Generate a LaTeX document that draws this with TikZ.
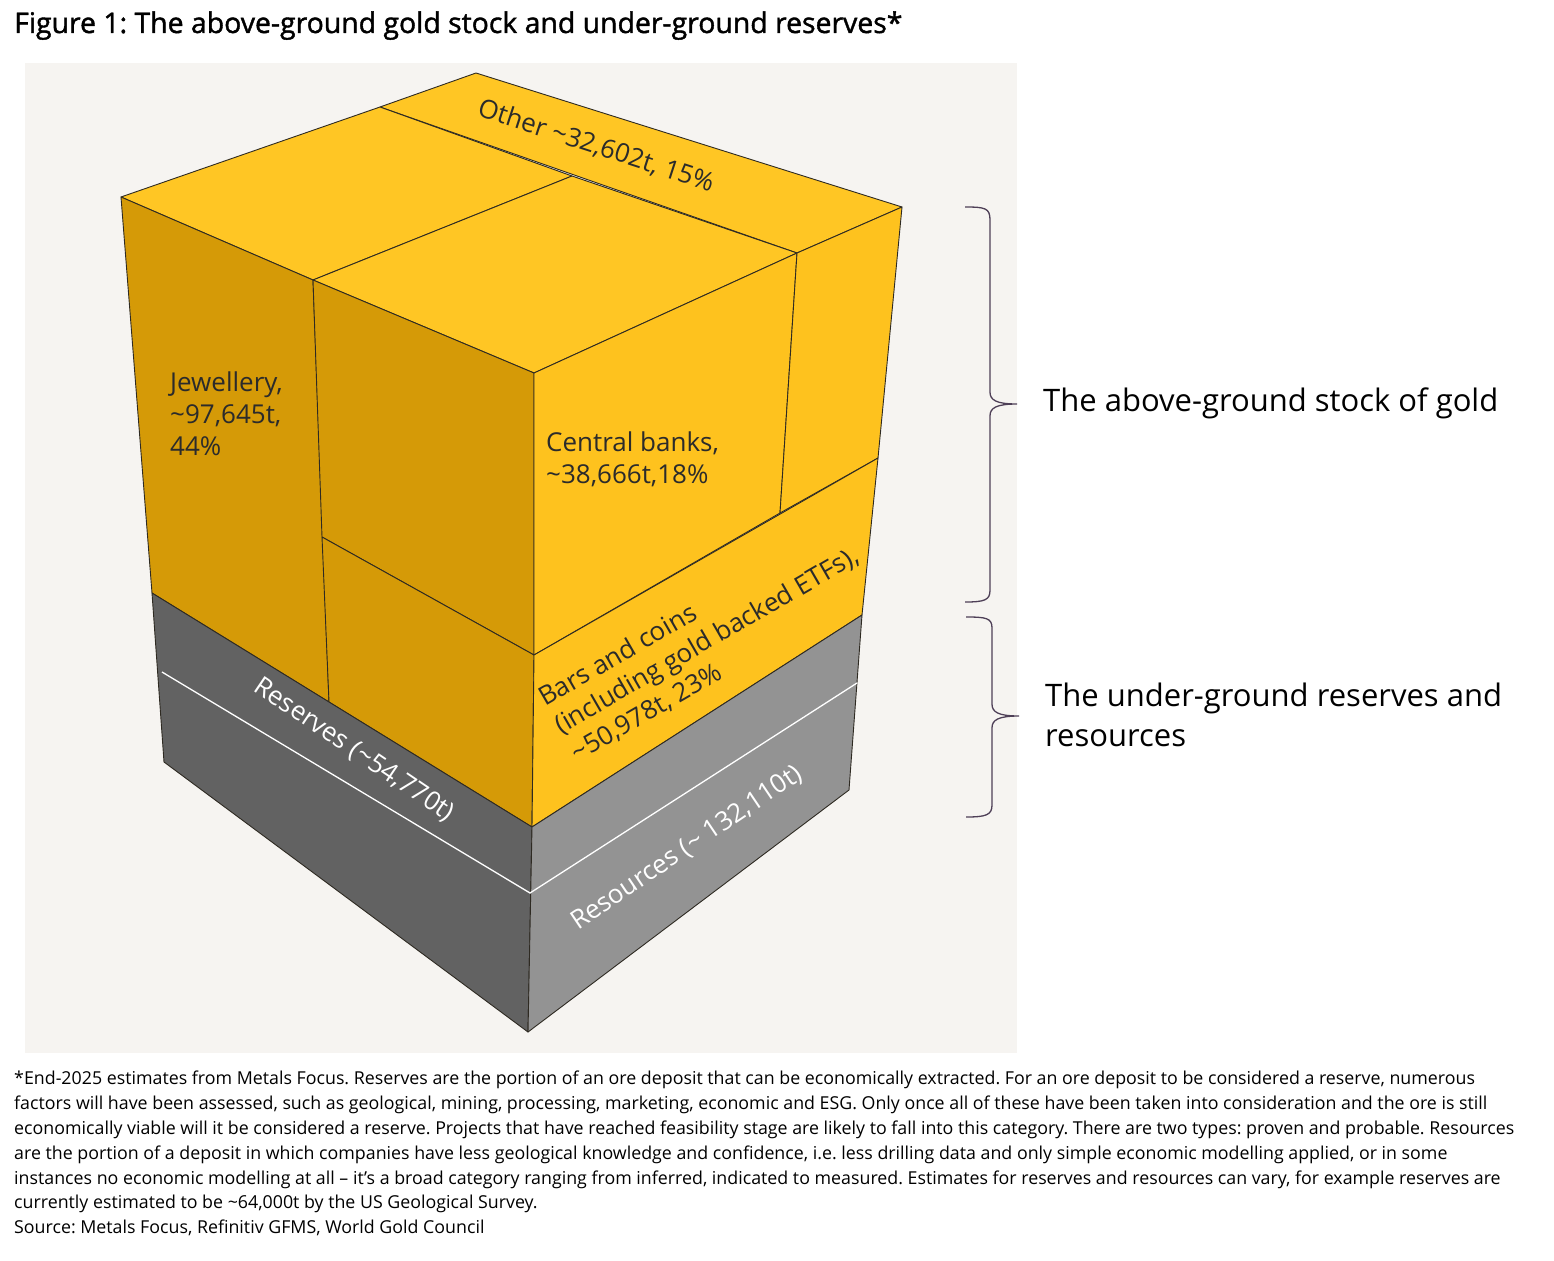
\documentclass[tikz,border=0pt]{standalone}
\usepackage{fontspec}
\setmainfont{Open Sans}
\newfontfamily\titlefont[FakeBold=1.4]{Open Sans}
\frenchspacing
\definecolor{goldtop}{HTML}{FFC624}
\definecolor{goldleft}{HTML}{D59A07}
\definecolor{goldright}{HTML}{FEC21E}
\definecolor{greyleft}{HTML}{626262}
\definecolor{greyright}{HTML}{939393}
\definecolor{backdrop}{HTML}{F6F4F1}
\definecolor{bracecol}{HTML}{4E3F57}
\definecolor{edgecol}{HTML}{2E2A22}
\definecolor{labelcol}{HTML}{2B2B2B}

\begin{document}
\begin{tikzpicture}[x=1pt,y=-1pt,
    face/.style={draw=edgecol,line width=0.9pt,line join=round},
    lbl/.style={font=\fontsize{26}{32}\selectfont,text=labelcol,inner sep=0pt,align=left},
    sidelbl/.style={font=\fontsize{31}{40}\selectfont,text=black,inner sep=0pt,align=left,anchor=west},
    brace/.style={draw=bracecol,line width=1.3pt}]
    \useasboundingbox (0,0) rectangle (1554,1260);
    \fill[backdrop] (25,63) rectangle (1017,1053);

    % corners of the block
    \coordinate (BT) at (476,73);
    \coordinate (LT) at (121,197);
    \coordinate (RT) at (902,207);
    \coordinate (FT) at (534,373);
    \coordinate (LG) at (152,593);
    \coordinate (FG) at (532,827);
    \coordinate (RG) at (862,615);
    \coordinate (LB) at (164,762);
    \coordinate (FB) at (528,1032);
    \coordinate (RB) at (849,790);
    % division points
    \coordinate (A1) at (380,107);
    \coordinate (A2) at (797,253);
    \coordinate (B1) at (572,176);
    \coordinate (B2) at (313,280);
    \coordinate (C1) at (329,702);
    \coordinate (C2) at (322,537);
    \coordinate (D1) at (534,655);
    \coordinate (D2) at (878,458);
    \coordinate (E1) at (780,513);
    \coordinate (WL) at (162,672);
    \coordinate (WF) at (530,893);
    \coordinate (WR) at (857,683);

    % gold, top
    \filldraw[face,fill=goldtop] (A1) -- (BT) -- (RT) -- (A2) -- cycle;
    \filldraw[face,fill=goldtop] (LT) -- (A1) -- (B1) -- (B2) -- cycle;
    \filldraw[face,fill=goldtop] (B2) -- (B1) -- (A2) -- (FT) -- cycle;
    % gold, left side
    \filldraw[face,fill=goldleft] (LT) -- (B2) -- (C1) -- (LG) -- cycle;
    \filldraw[face,fill=goldleft] (B2) -- (FT) -- (D1) -- (C2) -- cycle;
    \filldraw[face,fill=goldleft] (C2) -- (D1) -- (FG) -- (C1) -- cycle;
    % gold, right side
    \filldraw[face,fill=goldright] (FT) -- (A2) -- (E1) -- (D1) -- cycle;
    \filldraw[face,fill=goldright] (A2) -- (RT) -- (D2) -- (E1) -- cycle;
    \filldraw[face,fill=goldright] (D1) -- (D2) -- (RG) -- (FG) -- cycle;
    % under ground
    \filldraw[face,fill=greyleft] (LG) -- (FG) -- (FB) -- (LB) -- cycle;
    \filldraw[face,fill=greyright] (FG) -- (RG) -- (RB) -- (FB) -- cycle;
    \draw[white,line width=1.3pt] (WL) -- (WF) -- (WR);

    \node[lbl,anchor=north west] (jewel) at (170,372) {Jewellery,\\\textasciitilde97,645t,\\44\%};
    \node[lbl,anchor=north west] (cbanks) at (546,432) {Central banks,\\\textasciitilde38,666t,18\%};
    \node[lbl,rotate=-18] (other) at (596,146) {Other \textasciitilde32,602t, 15\%};
    \node[lbl,rotate=30] (bars) at (707,641) {Bars and coins\\(including gold backed ETFs),\\\textasciitilde50,978t, 23\%};
    \node[lbl,text=white,rotate=-34] (reserves) at (354,750) {Reserves (\textasciitilde54,770t)};
    \node[lbl,text=white,rotate=34] (resources) at (687,848) {Resources (\textasciitilde\ 132,110t)};

    % braces
    \draw[brace] (965,207) .. controls (985,207) and (990,208) .. (990,220) -- (990,392)
        .. controls (990,400) and (996,404) .. (1017,404)
        .. controls (996,404) and (990,408) .. (990,416) -- (990,590)
        .. controls (990,600) and (985,602) .. (965,602);
    \draw[brace] (966,617) .. controls (986,617) and (992,618) .. (992,628) -- (992,704)
        .. controls (992,712) and (998,716) .. (1019,716)
        .. controls (998,716) and (992,720) .. (992,728) -- (992,805)
        .. controls (992,815) and (986,817) .. (966,817);
    \node[sidelbl] (above) at (1043,403) {The above-ground stock of gold};
    \node[sidelbl] (under) at (1045,715) {The under-ground reserves and\\resources};

    \node[anchor=base west,inner sep=0pt,font=\titlefont\fontsize{28.4}{30}\selectfont] (title) at (14,33)
        {Figure 1: The above-ground gold stock and under-ground reserves*};
    \node[anchor=north west,inner sep=0pt,align=left,font=\fontsize{17.8}{24.8}\selectfont] (note) at (14,1071)
        {*End-2025 estimates from Metals Focus. Reserves are the portion of an ore deposit that can be economically extracted. For an ore deposit to be considered a reserve, numerous\\
        factors will have been assessed, such as geological, mining, processing, marketing, economic and ESG. Only once all of these have been taken into consideration and the ore is still\\
        economically viable will it be considered a reserve. Projects that have reached feasibility stage are likely to fall into this category. There are two types: proven and probable. Resources\\
        are the portion of a deposit in which companies have less geological knowledge and confidence, i.e. less drilling data and only simple economic modelling applied, or in some\\
        instances no economic modelling at all -- it's a broad category ranging from inferred, indicated to measured. Estimates for reserves and resources can vary, for example reserves are\\
        currently estimated to be \textasciitilde64,000t by the US Geological Survey.\\
        Source: Metals Focus, Refinitiv GFMS, World Gold Council};
\end{tikzpicture}
\end{document}
